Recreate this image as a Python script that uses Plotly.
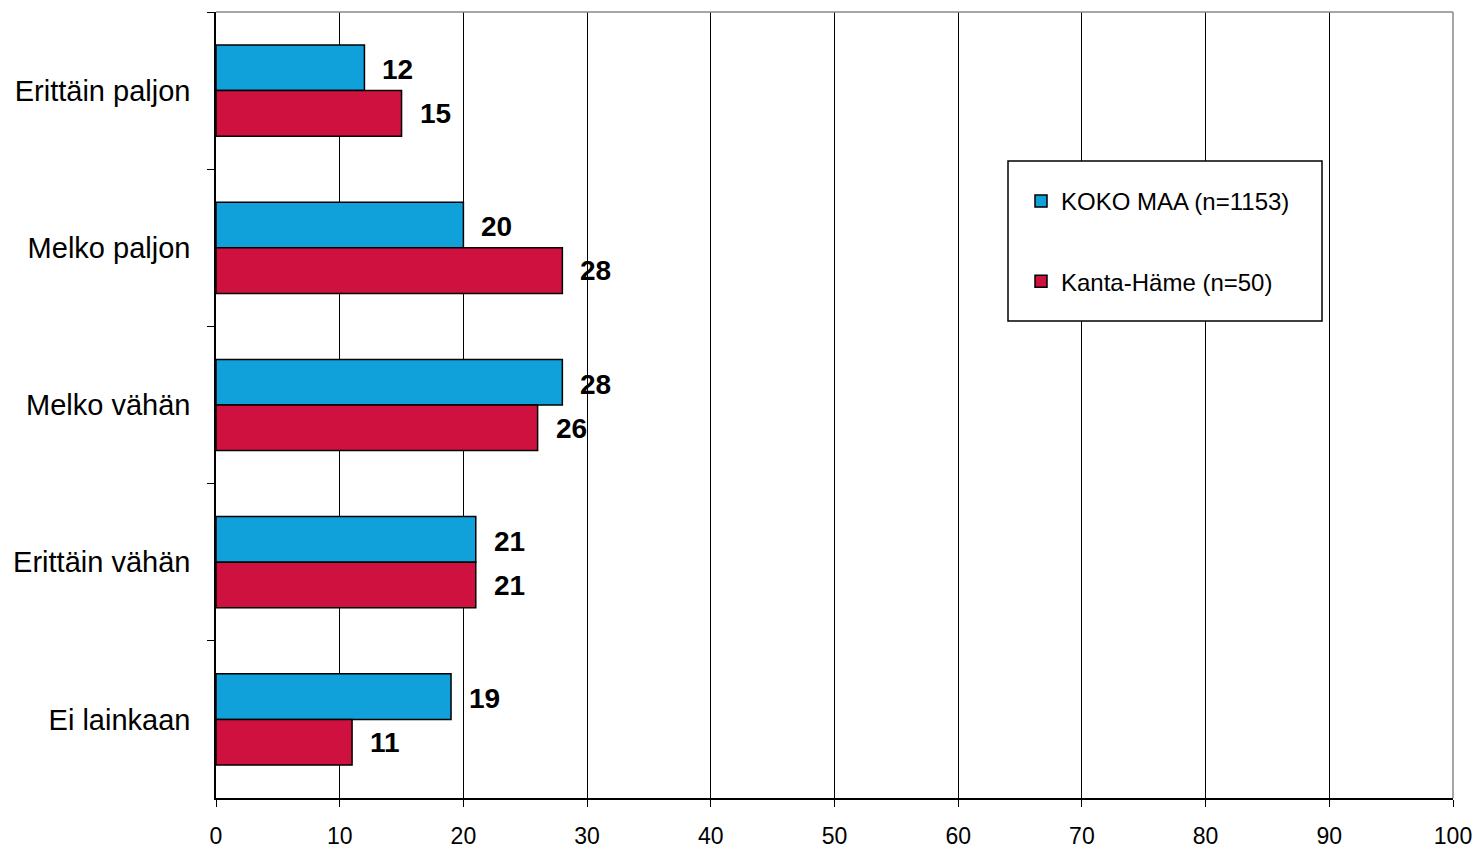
import plotly.graph_objects as go

categories = ["Erittäin paljon", "Melko paljon", "Melko vähän", "Erittäin vähän", "Ei lainkaan"]
koko_maa = [12, 20, 28, 21, 19]
kanta_hame = [15, 28, 26, 21, 11]
series_names = ["KOKO MAA (n=1153)", "Kanta-Häme (n=50)"]
x_ticks = [0, 10, 20, 30, 40, 50, 60, 70, 80, 90, 100]

BLUE = "#10A0DA"
RED = "#CF1140"
FONT = "Liberation Sans, Arial, sans-serif"

fig = go.Figure()
fig.add_trace(go.Bar(y=categories, x=koko_maa, orientation="h", name=series_names[0],
                     marker=dict(color=BLUE, line=dict(color="black", width=1.5)),
                     legendgroup="a"))
fig.add_trace(go.Bar(y=categories, x=kanta_hame, orientation="h", name=series_names[1],
                     marker=dict(color=RED, line=dict(color="black", width=1.5)),
                     legendgroup="b"))

annotations = []
for cat, v in zip(categories, koko_maa):
    annotations.append(dict(x=v, y=cat, text=f"<b>{v}</b>", showarrow=False, xanchor="left",
                            xshift=16, yshift=21, font=dict(size=28, color="black", family=FONT)))
for cat, v in zip(categories, kanta_hame):
    annotations.append(dict(x=v, y=cat, text=f"<b>{v}</b>", showarrow=False, xanchor="left",
                            xshift=16, yshift=-23, font=dict(size=28, color="black", family=FONT)))

shapes = [
    dict(type="line", xref="paper", yref="paper", x0=0, x1=1, y0=1, y1=1,
         line=dict(color="#888888", width=1.5)),
    dict(type="line", xref="paper", yref="paper", x0=1, x1=1, y0=0, y1=1,
         line=dict(color="#888888", width=1.5)),
    dict(type="rect", xref="paper", yref="paper",
         x0=(1008 - 216) / 1237, x1=(1322 - 216) / 1237,
         y0=(798 - 321) / 786, y1=(798 - 161) / 786,
         fillcolor="white", line=dict(color="black", width=1.5), layer="above"),
]

fig.update_layout(
    width=1479, height=849,
    margin=dict(l=216, r=26, t=12, b=51),
    paper_bgcolor="white", plot_bgcolor="white",
    barmode="group", bargap=0.42, bargroupgap=0,
    font=dict(family=FONT, color="black"),
    showlegend=True,
    legend=dict(x=(1021 - 216) / 1237, y=(798 - 179) / 786, xanchor="left", yanchor="top",
                bgcolor="rgba(0,0,0,0)", borderwidth=0,
                font=dict(size=24, family=FONT, color="black"),
                traceorder="grouped", tracegroupgap=46, itemwidth=30),
    xaxis=dict(range=[0, 100], tickvals=x_ticks, ticks="outside", ticklen=7, tickwidth=1.3,
               tickcolor="black", showline=True, linecolor="black", linewidth=1.5,
               showgrid=True, gridcolor="black", gridwidth=1.3, zeroline=False,
               ticklabelstandoff=10, automargin=False,
               tickfont=dict(size=23, family=FONT, color="black")),
    yaxis=dict(categoryorder="array", categoryarray=categories, autorange="reversed",
               ticks="outside", tickson="boundaries", ticklen=7, tickwidth=1.3, tickcolor="black",
               showline=True, linecolor="black", linewidth=1.5, showgrid=False,
               ticklabelstandoff=18, automargin=False,
               tickfont=dict(size=29, family=FONT, color="black")),
    annotations=annotations,
    shapes=shapes,
)

fig.write_html("out.html", config={"displayModeBar": False},
               post_script="document.body.style.margin='0';")
